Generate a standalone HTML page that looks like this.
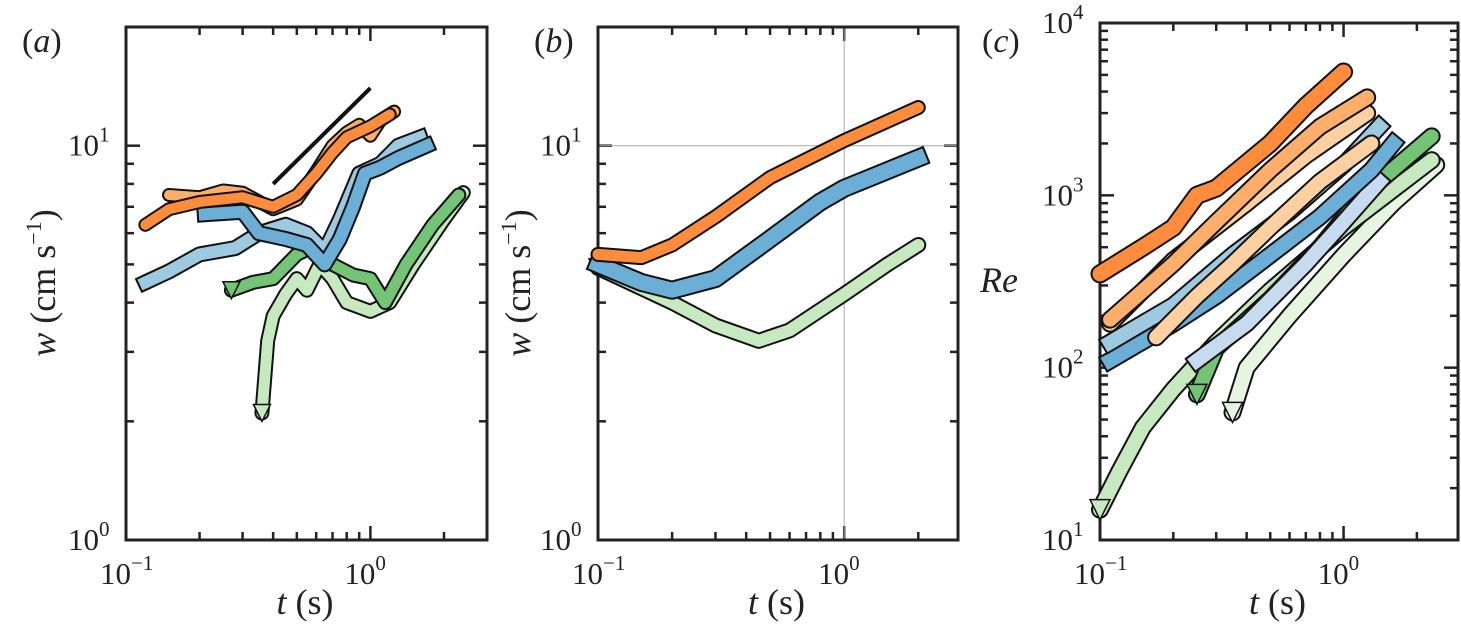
<!DOCTYPE html>
<html><head><meta charset="utf-8"><style>
body{margin:0;background:#fff}
svg text{font-family:"Liberation Serif",serif}
</style></head><body>
<svg id="s" width="1461" height="624" font-family="Liberation Serif, serif"></svg>
<script>
// ---- data ----
const aOrangeDark={t:[0.12,0.15,0.2,0.3,0.4,0.5,0.6,0.7,0.8,1.0,1.2],w:[6.3,6.9,7.2,7.4,7.0,7.5,8.5,9.6,10.5,11.2,12.0]};
const aOrangeLight={t:[0.15,0.2,0.25,0.3,0.4,0.5,0.6,0.7,0.8,0.9,1.0,1.1,1.25],w:[7.5,7.4,7.7,7.6,6.9,7.3,8.6,10.0,10.8,11.3,10.6,11.6,12.2]};
const aBlueDark={t:[0.21,0.3,0.35,0.45,0.55,0.65,0.75,0.85,0.95,1.1,1.3,1.7],w:[6.7,6.8,6.0,5.8,5.6,5.0,5.8,7.0,8.5,8.8,9.3,10.0]};
const aBlueLight={t:[0.12,0.15,0.2,0.28,0.35,0.45,0.55,0.65,0.75,0.9,1.1,1.3,1.6],w:[4.5,4.8,5.3,5.5,6.0,6.3,6.0,5.4,6.5,8.5,9.0,10.0,10.5]};
const aGreenDark={t:[0.27,0.33,0.4,0.5,0.6,0.7,0.85,1.0,1.15,1.4,1.8,2.3],w:[4.3,4.5,4.6,5.3,5.6,5.0,4.7,4.6,4.0,5.0,6.3,7.5]};
const aGreenLight={t:[0.36,0.37,0.38,0.4,0.45,0.5,0.55,0.62,0.7,0.8,1.0,1.2,1.5,2.0,2.4],w:[2.1,2.6,3.2,3.7,4.2,4.6,4.3,5.0,4.6,4.0,3.8,4.0,5.0,6.5,7.6]};
const aSlope={t:[0.4,1.0],w:[8.0,14.0]};
const bOrange={t:[0.1,0.15,0.2,0.3,0.5,1.0,2.0],w:[5.3,5.2,5.6,6.6,8.3,10.3,12.5]};
const bBlue={t:[0.1,0.15,0.2,0.3,0.5,0.8,1.0,2.0],w:[5.0,4.5,4.3,4.6,5.8,7.2,7.8,9.3]};
const bGreen={t:[0.1,0.2,0.3,0.45,0.6,1.0,1.5,2.0],w:[4.9,4.0,3.5,3.2,3.4,4.2,5.0,5.6]};
const cSeries=[
 {t:[0.35,0.4,0.6,1.0,1.6,2.4],w:[55,100,200,450,900,1500],c:'#e5f5e0',m:'tri'},
 {t:[0.1,0.12,0.15,0.2,0.3,0.5,1.0,2.3],w:[15,25,45,75,140,280,650,1600],c:'#c7e9c0',m:'tri'},
 {t:[0.25,0.3,0.5,0.8,1.2,2.3],w:[70,130,250,500,1000,2200],c:'#74c476',m:'tri'},
 {t:[0.25,0.4,0.7,1.0,1.4],w:[110,180,400,700,1200],c:'#c6dbef',m:'sq'},
 {t:[0.11,0.2,0.3,0.5,0.8,1.3,1.6],w:[110,180,260,450,750,1400,2000],c:'#6baed6',m:'sq'},
 {t:[0.11,0.2,0.35,0.6,1.0,1.4],w:[140,230,450,800,1500,2500],c:'#9ecae1',m:'sq'},
 {t:[0.17,0.25,0.35,0.5,0.8,1.3],w:[150,260,400,650,1200,2000],c:'#fdd0a2',m:'ci'},
 {t:[0.11,0.2,0.4,0.7,1.25],w:[180,420,900,1700,3000],c:'#fdd0a2',m:'ci'},
 {t:[0.11,0.2,0.3,0.5,0.8,1.25],w:[190,400,700,1400,2500,3700],c:'#fdae6b',m:'ci'},
 {t:[0.1,0.15,0.2,0.25,0.3,0.5,0.7,1.0],w:[350,500,650,1000,1100,2000,3300,5200],c:'#fd8d3c',m:'ci'}
];
// ---- drawing ----
const NS='http://www.w3.org/2000/svg',S=document.getElementById('s');
const FF='Liberation Serif, serif';
function mk(tag,at,p){const e=document.createElementNS(NS,tag);for(const k in at)e.setAttribute(k,at[k]);if(tag=='text')e.setAttribute('font-family',FF);(p||S).appendChild(e);return e;}
function panel(o){
 const g=mk('g',{});
 
 
 const X=t=>o.x0+(o.x1-o.x0)*(Math.log10(t)-o.lx0)/(o.lx1-o.lx0);
 const Y=v=>o.y1-(o.y1-o.y0)*(Math.log10(v)-o.ly0)/(o.ly1-o.ly0);
 o.X=X;o.Y=Y;o.g=g;
 for(let d=Math.floor(o.lx0);d<=o.lx1;d++)for(let m=1;m<10;m++){const v=m*Math.pow(10,d),lv=Math.log10(v);if(lv<o.lx0-1e-9||lv>o.lx1+1e-9)continue;const x=X(v),L=m==1?14:8;
  mk('line',{x1:x,x2:x,y1:o.y1,y2:o.y1-L,stroke:'#222','stroke-width':2.5},g);mk('line',{x1:x,x2:x,y1:o.y0,y2:o.y0+L,stroke:'#222','stroke-width':2.5},g);
  if(m==1){const t=mk('text',{x:x-26,y:o.y1+44,'font-size':31,fill:'#222'},g);t.innerHTML='10<tspan dy="-14" font-size="21">'+(d<0?'−1':d)+'</tspan>';}}
 for(let d=Math.floor(o.ly0);d<=o.ly1;d++)for(let m=1;m<10;m++){const v=m*Math.pow(10,d),lv=Math.log10(v);if(lv<o.ly0-1e-9||lv>o.ly1+1e-9)continue;const y=Y(v),L=m==1?14:8;
  mk('line',{x1:o.x0,x2:o.x0+L,y1:y,y2:y,stroke:'#222','stroke-width':2.5},g);mk('line',{x1:o.x1,x2:o.x1-L,y1:y,y2:y,stroke:'#222','stroke-width':2.5},g);
  if(m==1){const t=mk('text',{x:o.x0-58,y:y+10,'font-size':31,fill:'#222'},g);t.innerHTML='10<tspan dy="-14" font-size="21">'+d+'</tspan>';}}
 if(o.grid){mk('line',{x1:X(1),x2:X(1),y1:o.y0,y2:o.y1,stroke:'#aaa','stroke-width':1},g);mk('line',{x1:o.x0,x2:o.x1,y1:Y(10),y2:Y(10),stroke:'#aaa','stroke-width':1},g);}
 const f=mk('rect',{x:o.x0,y:o.y0,width:o.x1-o.x0,height:o.y1-o.y0,fill:'none',stroke:'#222','stroke-width':3},g);
 
 const xl=mk('text',{x:(o.x0+o.x1)/2-30,y:614,'font-size':36,fill:'#222'},g);xl.innerHTML='<tspan font-style="italic">t</tspan> (s)';
 
 const pl=mk('text',{x:o.lab[0],y:o.lab[1],'font-size':34,fill:'#222'},g);pl.innerHTML='(<tspan font-style="italic">'+o.letter+'</tspan>)';
 
 return o;
}
function series(o,d,vals,col,w,marker,name){
 const pts=d.t.map((t,i)=>o.X(t)+','+o.Y(vals[i])).join(' ');
 const g=mk('g',{},o.g);
 
 
 mk('polyline',{points:pts,fill:'none',stroke:'#111','stroke-width':w+4,'stroke-linejoin':'round','stroke-linecap':marker=='sq'?'square':'round'},g);
 mk('polyline',{points:pts,fill:'none',stroke:col,'stroke-width':w,'stroke-linejoin':'round','stroke-linecap':marker=='sq'?'square':'round'},g);
 const x=o.X(d.t[0]),y=o.Y(vals[0]),r=w/2+3;
 if(marker=='tri')mk('polygon',{points:(x-r)+','+(y-r)+' '+(x+r)+','+(y-r)+' '+x+','+(y+r),fill:col,stroke:'#111','stroke-width':1.5},g);
}
const A=panel({name:'panel-a',letter:'a',x0:126,x1:487,y0:27,y1:540,lx0:-1,lx1:Math.log10(3),ly0:0,ly1:Math.log10(20),lab:[22,52]});
const B=panel({name:'panel-b',letter:'b',x0:598,x1:958,y0:27,y1:540,lx0:-1,lx1:Math.log10(2.9),ly0:0,ly1:Math.log10(20),lab:[534,52],grid:true});
const C=panel({name:'panel-c',letter:'c',x0:1100,x1:1458,y0:23,y1:540,lx0:-1,lx1:Math.log10(2.95),ly0:1,ly1:4,lab:[982,52]});
let yt=mk('text',{transform:'translate(55,283) rotate(-90)','text-anchor':'middle','font-size':36,fill:'#222'});yt.innerHTML='<tspan font-style="italic">w</tspan> (cm s<tspan dy="-14" font-size="22">−1</tspan><tspan dy="14">)</tspan>';

yt=mk('text',{transform:'translate(530,283) rotate(-90)','text-anchor':'middle','font-size':36,fill:'#222'});yt.innerHTML='<tspan font-style="italic">w</tspan> (cm s<tspan dy="-14" font-size="22">−1</tspan><tspan dy="14">)</tspan>';

yt=mk('text',{x:980,y:292,'font-size':36,'font-style':'italic',fill:'#222'});yt.textContent='Re';

series(A,aGreenLight,aGreenLight.w,'#c7e9c0',11,'tri','series-green-light');
series(A,aGreenDark,aGreenDark.w,'#74c476',11,'tri','series-green-dark');
series(A,aBlueLight,aBlueLight.w,'#9ecae1',12,'sq','series-blue-light');
series(A,aBlueDark,aBlueDark.w,'#6baed6',12,'sq','series-blue-dark');
series(A,aOrangeLight,aOrangeLight.w,'#fdae6b',10,'ci','series-orange-light');
series(A,aOrangeDark,aOrangeDark.w,'#fd8d3c',10,'ci','series-orange-dark');
const sl=mk('line',{x1:A.X(aSlope.t[0]),y1:A.Y(aSlope.w[0]),x2:A.X(aSlope.t[1]),y2:A.Y(aSlope.w[1]),stroke:'#111','stroke-width':4},A.g);

series(B,bGreen,bGreen.w,'#c7e9c0',12,'tri','series-green');
series(B,bBlue,bBlue.w,'#6baed6',15,'sq','series-blue');
series(B,bOrange,bOrange.w,'#fd8d3c',11,'ci','series-orange');
cSeries.forEach((s,i)=>series(C,s,s.w,s.c,s.c=='#fd8d3c'?15:14,s.m,'re-series-'+i));
</script>
</body></html>
